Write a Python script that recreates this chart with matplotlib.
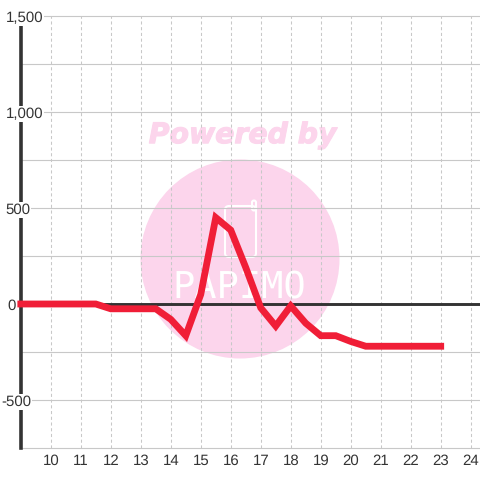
import matplotlib
matplotlib.use("Agg")
import matplotlib.pyplot as plt
import matplotlib.patheffects as pe
from matplotlib.patches import Circle, FancyBboxPatch

hours = [9, 11.5, 12, 13.5, 14, 14.5, 15, 15.5, 16, 16.5, 17, 17.5, 18, 18.5, 19, 19.5, 20, 20.5, 23]
values = [0, 0, -25, -25, -80, -165, 50, 450, 385, 190, -20, -115, -10, -100, -165, -165, -195, -220, -220]
x_ticks = list(range(10, 25))
y_major = [-500, 0, 500, 1000, 1500]
y_labels = ["-500", "0", "500", "1,000", "1,500"]
y_label_right = [31, 16, 30, 43, 43]
y_minor = [-750, -250, 250, 750, 1250]

plt.rcParams['font.family'] = ['Liberation Sans', 'DejaVu Sans']
plt.rcParams['text.hinting'] = 'no_hinting'
plt.rcParams['text.hinting_factor'] = 1
fig = plt.figure(figsize=(4.8, 4.8), dpi=100)
ax = fig.add_axes([20.5/480, 32/480, 459.5/480, 432/480])
ax.set_xlim(8.99, 24.31)
ax.set_ylim(-750, 1500)
for s in ax.spines.values():
    s.set_visible(False)

bg = fig.add_axes([0, 0, 1, 1], zorder=-1)
bg.set_xlim(0, 480); bg.set_ylim(480, 0); bg.axis('off')
pink = '#fcd5ec'
bg.add_patch(Circle((240, 259), 99.5, fc=pink, ec='none'))
bg.text(241.5, 135.5, 'Powered by', color=pink, fontsize=20.4, fontweight='bold', fontstyle='italic',
        family='DejaVu Sans', ha='center', va='center',
        path_effects=[pe.withStroke(linewidth=0.8, foreground=pink)])
bg.add_patch(FancyBboxPatch((225, 206), 31, 51, boxstyle='round,pad=0,rounding_size=4', fc='none', ec='white', lw=1.5))
bg.add_patch(FancyBboxPatch((252, 200.5), 4, 10, boxstyle='round,pad=0,rounding_size=2', fc='none', ec='white', lw=1.5))
bg.text(239.5, 288, 'PAPIMO', color='white', fontsize=26.5, family='DejaVu Sans Mono', ha='center', va='center')
ax.patch.set_alpha(0)

ax.set_xticks(x_ticks)
ax.set_yticks(y_major + y_minor)
ax.grid(True, axis='y', color='#c8c8c8', lw=0.8, clip_on=False)
ax.grid(True, axis='x', color='#c8c8c8', lw=0.75, ls=(0, (3, 2.5)))
ax.set_axisbelow(True)
ax.tick_params(length=0, labelleft=False, labelsize=10.8, labelcolor='#333333', pad=4.5)
ax.set_xticklabels([str(t) for t in x_ticks])

ax.axhline(0, color='#333333', lw=2.1, zorder=2)
ax.axvline(9, color='#333333', lw=2.6, zorder=2, clip_on=False)
ax.plot(hours, values, color='#f01e37', lw=4.9, solid_joinstyle='miter', solid_capstyle='projecting',
        zorder=3, clip_on=False)

for v, lab, r in zip(y_major, y_labels, y_label_right):
    _, py = ax.transData.transform((9, v))
    ax.annotate(lab, xy=(r/480, (py-0.5)/480), xycoords='figure fraction', ha='right', va='center_baseline',
                fontsize=10.8, color='#333333', zorder=5, annotation_clip=False,
                bbox=dict(fc='white', ec='none', pad=1.0))
fig.savefig('out.png', dpi=100)
